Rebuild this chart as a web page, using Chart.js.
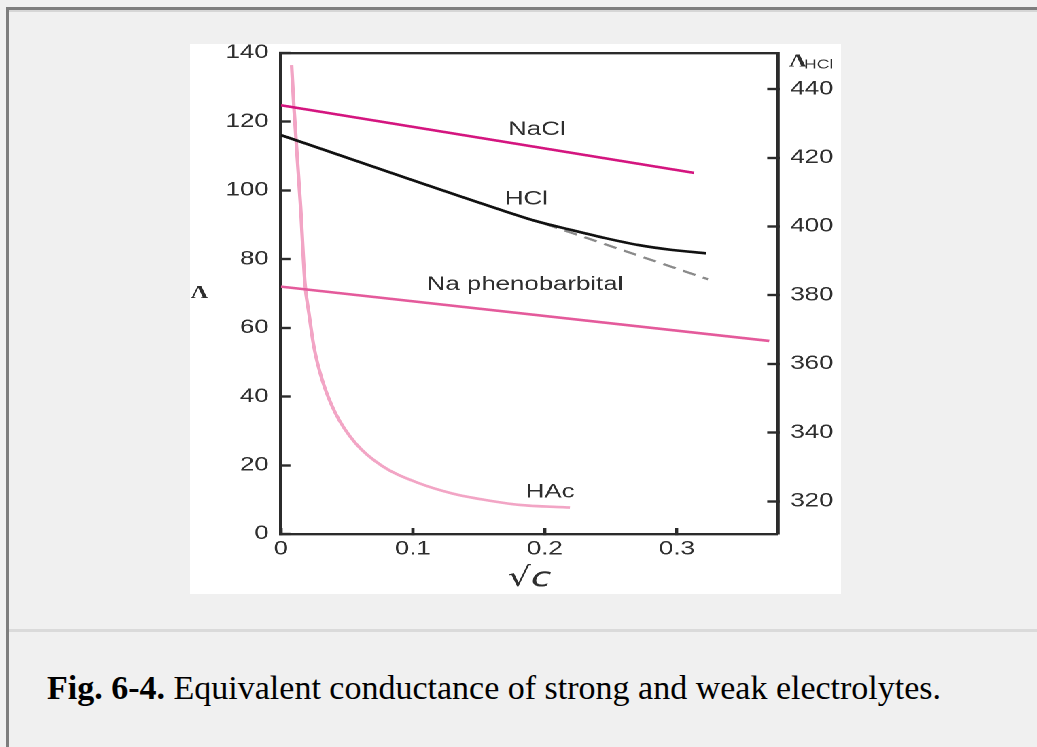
<!DOCTYPE html>
<html>
<head>
<meta charset="utf-8">
<title>Fig. 6-4</title>
<script src="https://cdn.jsdelivr.net/npm/chart.js@4.4.1/dist/chart.umd.min.js"></script>
<style>
    body {
        margin: 0;
        width: 1037px;
        height: 747px;
        overflow: hidden;
        position: relative;
        background: #f0f0f0;
    }
    .linea { position: absolute; }
    #figura {
        position: absolute;
        left: 190px;
        top: 44px;
        width: 479px;
        height: 550px;
        background: #fff;
        transform: scaleX(1.3591);
        transform-origin: 0 0;
    }
    #leyenda {
        position: absolute;
        left: 47px;
        top: 668px;
        font-family: "Liberation Serif", "Times New Roman", serif;
        font-size: 34px;
        line-height: 40px;
        color: #000;
        white-space: nowrap;
    }
</style>
</head>
<body>
<div class="linea" style="left:6px;top:7px;width:1031px;height:3px;background:#7d7d7d;"></div>
<div class="linea" style="left:9px;top:10px;width:1028px;height:2px;background:#d6d6d6;"></div>
<div class="linea" style="left:6px;top:7px;width:3px;height:740px;background:#7d7d7d;"></div>
<div class="linea" style="left:9px;top:629px;width:1028px;height:3px;background:#dadada;"></div>

<div id="figura"><canvas id="grafico"></canvas></div>

<div id="leyenda"><b>Fig. 6-4.</b> Equivalent conductance of strong and weak electrolytes.</div>

<script>
// ticks de los ejes
const ejeXTicks = [0, 0.1, 0.2, 0.3];
const ejeYTicks = [20, 40, 60, 80, 100, 120, 140, 0];
const ejeY2Ticks = [320, 340, 360, 380, 400, 420, 440];

// NaCl (eje izquierdo)
const naclX = [0, 0.313];
const naclY = [124.8, 105.1];

// HCl (eje derecho)
const hclX = [0, 0.17, 0.193, 0.221, 0.246, 0.271, 0.296, 0.322];
const hclY = [426.6, 404.4, 401.6, 398.9, 396.6, 394.6, 393.2, 392.2];

// extrapolacion de HCl (linea punteada, eje derecho)
const hclRectaX = [0.2, 0.324];
const hclRectaY = [400.8, 384.6];

// Na fenobarbital (eje izquierdo)
const fenobarbitalX = [0, 0.370];
const fenobarbitalY = [72.0, 56.2];

// HAc (eje izquierdo)
const hacX = [0.0081, 0.0098, 0.0149, 0.0182, 0.0212, 0.025, 0.0313, 0.0414, 0.0566, 0.0767, 0.1045, 0.1298, 0.155, 0.180, 0.219];
const hacY = [136.5, 124.4, 95.3, 73.0, 64.3, 54.5, 44.8, 35.1, 26.4, 19.8, 14.8, 11.8, 9.9, 8.5, 7.7];

// nombres de las curvas
const etiquetas = ["NaCl", "HCl", "Na phenobarbital", "HAc"];

const colorEje = "#2b2b2b";
const colorTexto = "#2e2e2e";
const fuenteSans = '"Liberation Sans", Arial, sans-serif';

function armarPuntos(xs, ys) {
    return xs.map((x, i) => ({ x: x, y: ys[i] }));
}

function ticksDesde(valores) {
    return function (eje) {
        eje.ticks = valores.map((v) => ({ value: v }));
    };
}

// fija el tamaño del eje y quita el relleno que chart.js agrega para las etiquetas
function medidaFija(lado, valor) {
    return function (eje) {
        eje[lado] = valor;
        eje.paddingTop = 0;
        eje.paddingBottom = 0;
        eje.paddingLeft = 0;
        eje.paddingRight = 0;
    };
}

// dibuja los nombres de las curvas y los titulos de los ejes Λ
const textosPlugin = {
    id: "textos",
    afterDraw(chart) {
        const ctx = chart.ctx;
        const { x, y, y2 } = chart.scales;

        // posicion de cada nombre, en unidades de los ejes
        const anclas = [
            [0.194, 117.6, y],
            [0.186, 408.0, y2],
            [0.185, 72.5, y],
            [0.204, 12.2, y]
        ];

        ctx.save();
        ctx.fillStyle = colorTexto;
        ctx.font = "19px " + fuenteSans;
        ctx.textAlign = "center";
        ctx.textBaseline = "middle";
        etiquetas.forEach((texto, i) => {
            const [vx, vy, eje] = anclas[i];
            ctx.fillText(texto, x.getPixelForValue(vx), eje.getPixelForValue(vy));
        });

        // Λ del eje izquierdo
        ctx.font = 'bold 18px "Liberation Serif", "Times New Roman", serif';
        ctx.fillText("Λ", y.left + 7, y.getPixelForValue(70));

        // Λ HCl del eje derecho
        const yTitulo = y2.getPixelForValue(447.9);
        ctx.textAlign = "left";
        ctx.fillText("Λ", y2.left + 8, yTitulo);
        ctx.font = "13px " + fuenteSans;
        ctx.fillText("HCl", y2.left + 19, yTitulo + 3);
        ctx.restore();
    }
};

function opcionesGrid(largo) {
    return {
        drawOnChartArea: false,
        tickLength: largo,
        tickWidth: 2.4,
        color: colorEje,
        tickColor: colorEje
    };
}

function cargarGrafico() {
    const lienzo = document.getElementById("grafico");

    const datasets = [
        {
            label: "NaCl",
            data: armarPuntos(naclX, naclY),
            yAxisID: "y",
            borderColor: "#d4157f",
            borderWidth: 2.6
        },
        {
            label: "HCl",
            data: armarPuntos(hclX, hclY),
            yAxisID: "y2",
            borderColor: "#111111",
            borderWidth: 2.6,
            cubicInterpolationMode: "monotone"
        },
        {
            label: "HCl recta",
            data: armarPuntos(hclRectaX, hclRectaY),
            yAxisID: "y2",
            borderColor: "#8a8a8a",
            borderWidth: 2.2,
            borderDash: [10, 6]
        },
        {
            label: "Na phenobarbital",
            data: armarPuntos(fenobarbitalX, fenobarbitalY),
            yAxisID: "y",
            borderColor: "#e45a9b",
            borderWidth: 2.6
        },
        {
            label: "HAc",
            data: armarPuntos(hacX, hacY),
            yAxisID: "y",
            borderColor: "#f2a5c5",
            borderWidth: 2.6,
            cubicInterpolationMode: "monotone"
        }
    ];

    const fuenteTicks = { family: fuenteSans, size: 19 };

    const config = {
        type: "line",
        data: { datasets },
        options: {
            responsive: true,
            maintainAspectRatio: false,
            devicePixelRatio: 2,
            animation: false,
            events: [],
            layout: { padding: 0 },
            elements: { point: { radius: 0 }, line: { fill: false } },
            plugins: { legend: { display: false }, tooltip: { enabled: false } },
            scales: {
                x: {
                    type: "linear",
                    position: "bottom",
                    min: 0,
                    max: 0.3767,
                    afterBuildTicks: ticksDesde(ejeXTicks),
                    afterFit: medidaFija("height", 60),
                    grid: opcionesGrid(-6),
                    border: { color: colorEje, width: 2.4 },
                    ticks: {
                        padding: 10,
                        color: colorTexto,
                        font: fuenteTicks,
                        maxRotation: 0,
                        autoSkip: false,
                        callback: (v) => (v === 0 ? "0" : v.toFixed(1))
                    },
                    title: {
                        display: true,
                        text: "√c",
                        color: colorTexto,
                        font: { family: '"DejaVu Sans", sans-serif', size: 27, style: "italic" },
                        padding: { top: 0, bottom: -1 }
                    }
                },
                xArriba: {
                    type: "linear",
                    position: "top",
                    min: 0,
                    max: 0.3767,
                    afterFit: medidaFija("height", 9),
                    grid: { drawOnChartArea: false, drawTicks: false, color: colorEje },
                    border: { color: colorEje, width: 2.4 },
                    ticks: { display: false }
                },
                y: {
                    type: "linear",
                    position: "left",
                    min: 0,
                    max: 140,
                    afterBuildTicks: ticksDesde(ejeYTicks),
                    afterFit: medidaFija("width", 66.9),
                    grid: opcionesGrid(-7),
                    border: { color: colorEje, width: 2.4 },
                    ticks: { padding: 16, color: colorTexto, font: fuenteTicks }
                },
                y2: {
                    type: "linear",
                    position: "right",
                    min: 310.5,
                    max: 450.5,
                    afterBuildTicks: ticksDesde(ejeY2Ticks),
                    afterFit: medidaFija("width", 46.3),
                    grid: opcionesGrid(-8),
                    border: { color: colorEje, width: 2.4 },
                    ticks: { padding: 17, color: colorTexto, font: fuenteTicks }
                }
            }
        },
        plugins: [textosPlugin]
    };

    new Chart(lienzo, config);
}

cargarGrafico();
</script>
</body>
</html>
